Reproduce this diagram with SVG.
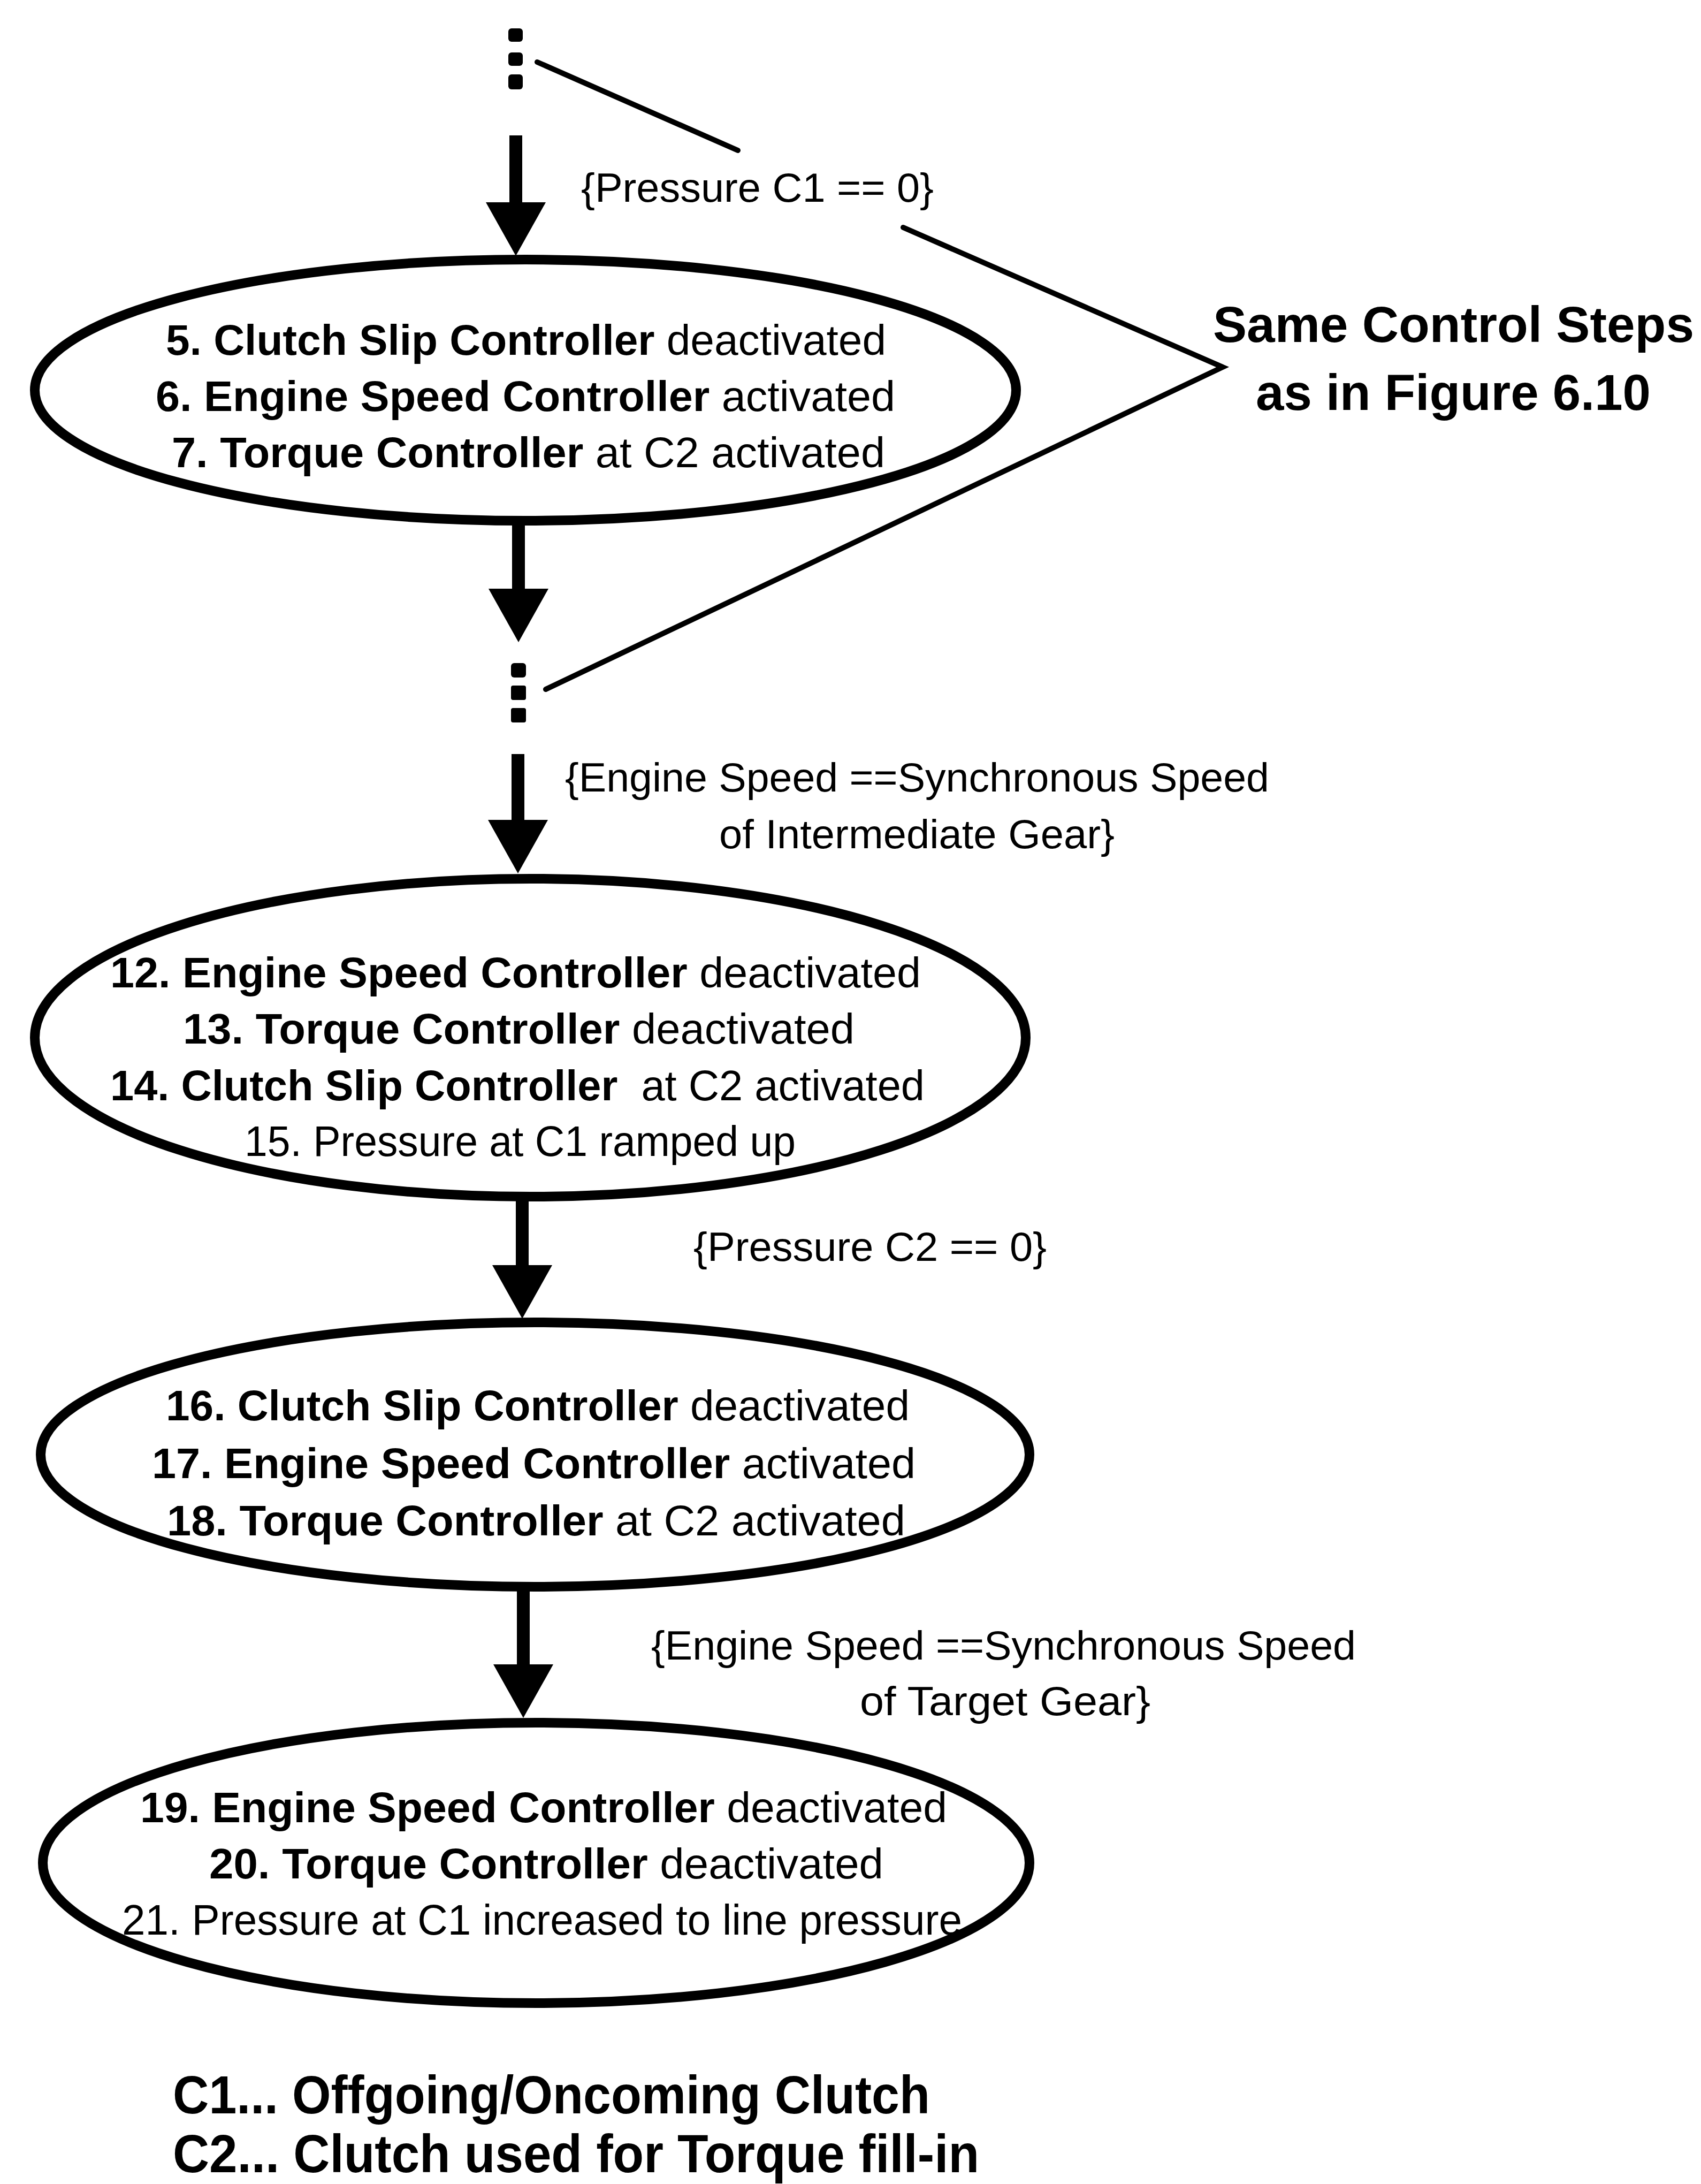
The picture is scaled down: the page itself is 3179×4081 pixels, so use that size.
<svg xmlns="http://www.w3.org/2000/svg" width="3179" height="4081" viewBox="0 0 3179 4081">
  <defs>
    <style>
      .t { font-family: "Liberation Sans", Arial, sans-serif; font-size: 80px; fill: #000; }
      .b { font-weight: bold; }
      .lbl { font-family: "Liberation Sans", Arial, sans-serif; font-size: 76px; fill: #000; }
      .note { font-family: "Liberation Sans", Arial, sans-serif; font-weight: bold; font-size: 94px; fill: #000; }
      .legend { font-family: "Liberation Sans", Arial, sans-serif; font-weight: bold; font-size: 100px; fill: #000; }
      .node { fill: none; stroke: #000; stroke-width: 18; }
      .edge { fill: none; stroke: #000; stroke-width: 24; }
      .ptr { fill: none; stroke: #000; stroke-width: 10; stroke-linecap: round; stroke-linejoin: miter; }
      .dot { fill: #000; }
    </style>
    <marker id="head" viewBox="0 0 100 112" refX="0" refY="56" markerWidth="100" markerHeight="112" markerUnits="userSpaceOnUse" orient="auto">
      <path d="M0,0 L100,56 L0,112 Z" fill="#000"/>
    </marker>
  </defs>
  <rect width="3179" height="4081" fill="#fff"/>

  <!-- transitions, continuation marks and pointer lines -->
  <g id="connectors">
    <!-- continuation marks above the first state -->
    <rect class="dot" x="950" y="53" width="27" height="25" rx="6"/>
    <rect class="dot" x="950" y="98" width="27" height="25" rx="6"/>
    <rect class="dot" x="950" y="139" width="27" height="28" rx="6"/>
    <!-- continuation marks between the first and second state -->
    <rect class="dot" x="955" y="1239" width="28" height="27" rx="6"/>
    <rect class="dot" x="955" y="1281" width="28" height="27" rx="4"/>
    <rect class="dot" x="955" y="1323" width="28" height="27" rx="4"/>

    <line class="edge" x1="964" y1="253" x2="964" y2="378" marker-end="url(#head)"/>
    <line class="edge" x1="969" y1="978" x2="969" y2="1100" marker-end="url(#head)"/>
    <line class="edge" x1="968" y1="1409" x2="968" y2="1532" marker-end="url(#head)"/>
    <line class="edge" x1="976" y1="2240" x2="976" y2="2364" marker-end="url(#head)"/>
    <line class="edge" x1="978" y1="2972" x2="978" y2="3110" marker-end="url(#head)"/>

    <!-- pointers to the "same control steps" note -->
    <line class="ptr" x1="1004" y1="116" x2="1379" y2="281"/>
    <polyline class="ptr" points="1688,425 2285,686 1020,1288"/>
  </g>

  <g id="state-5-7">
    <ellipse class="node" cx="982" cy="729" rx="917" ry="244"/>
    <text class="t" x="310" y="663" textLength="1346" lengthAdjust="spacingAndGlyphs"><tspan class="b">5. Clutch Slip Controller</tspan> deactivated</text>
    <text class="t" x="291" y="768" textLength="1382" lengthAdjust="spacingAndGlyphs"><tspan class="b">6. Engine Speed Controller</tspan> activated</text>
    <text class="t" x="321" y="873" textLength="1333" lengthAdjust="spacingAndGlyphs"><tspan class="b">7. Torque Controller</tspan> at C2 activated</text>
  </g>

  <g id="state-12-15">
    <ellipse class="node" cx="991" cy="1939" rx="926" ry="297"/>
    <text class="t" x="206" y="1845" textLength="1515" lengthAdjust="spacingAndGlyphs"><tspan class="b">12. Engine Speed Controller</tspan> deactivated</text>
    <text class="t" x="342" y="1950" textLength="1255" lengthAdjust="spacingAndGlyphs"><tspan class="b">13. Torque Controller</tspan> deactivated</text>
    <text class="t" x="206" y="2056" font-size="79" textLength="1522" lengthAdjust="spacingAndGlyphs" xml:space="preserve"><tspan class="b">14. Clutch Slip Controller</tspan>  at C2 activated</text>
    <text class="t" x="457" y="2160" textLength="1030" lengthAdjust="spacingAndGlyphs">15. Pressure at C1 ramped up</text>
  </g>

  <g id="state-16-18">
    <ellipse class="node" cx="1000" cy="2718" rx="924" ry="247"/>
    <text class="t" x="310" y="2654" textLength="1390" lengthAdjust="spacingAndGlyphs"><tspan class="b">16. Clutch Slip Controller</tspan> deactivated</text>
    <text class="t" x="284" y="2762" textLength="1427" lengthAdjust="spacingAndGlyphs"><tspan class="b">17. Engine Speed Controller</tspan> activated</text>
    <text class="t" x="312" y="2869" textLength="1380" lengthAdjust="spacingAndGlyphs"><tspan class="b">18. Torque Controller</tspan> at C2 activated</text>
  </g>

  <g id="state-19-21">
    <ellipse class="node" cx="1002" cy="3481" rx="922" ry="262"/>
    <text class="t" x="262" y="3405" textLength="1508" lengthAdjust="spacingAndGlyphs"><tspan class="b">19. Engine Speed Controller</tspan> deactivated</text>
    <text class="t" x="391" y="3510" textLength="1260" lengthAdjust="spacingAndGlyphs"><tspan class="b">20. Torque Controller</tspan> deactivated</text>
    <text class="t" x="228" y="3615" textLength="1570" lengthAdjust="spacingAndGlyphs">21. Pressure at C1 increased to line pressure</text>
  </g>

  <!-- transition conditions -->
  <g id="conditions">
    <text class="lbl" x="1086" y="377" textLength="659" lengthAdjust="spacingAndGlyphs">{Pressure C1 == 0}</text>
    <text class="lbl" x="1056" y="1479" textLength="1316" lengthAdjust="spacingAndGlyphs">{Engine Speed ==Synchronous Speed</text>
    <text class="lbl" x="1344" y="1585" textLength="739" lengthAdjust="spacingAndGlyphs">of Intermediate Gear}</text>
    <text class="lbl" x="1296" y="2356" textLength="660" lengthAdjust="spacingAndGlyphs">{Pressure C2 == 0}</text>
    <text class="lbl" x="1217" y="3101" textLength="1317" lengthAdjust="spacingAndGlyphs">{Engine Speed ==Synchronous Speed</text>
    <text class="lbl" x="1607" y="3205" textLength="543" lengthAdjust="spacingAndGlyphs">of Target Gear}</text>
  </g>

  <g id="note-same-steps">
    <text class="note" x="2267" y="639" textLength="899" lengthAdjust="spacingAndGlyphs">Same Control Steps</text>
    <text class="note" x="2347" y="766" textLength="738" lengthAdjust="spacingAndGlyphs">as in Figure 6.10</text>
  </g>

  <g id="legend">
    <text class="legend" x="323" y="3949" textLength="1415" lengthAdjust="spacingAndGlyphs">C1... Offgoing/Oncoming Clutch</text>
    <text class="legend" x="323" y="4059" textLength="1507" lengthAdjust="spacingAndGlyphs">C2... Clutch used for Torque fill-in</text>
  </g>
</svg>
